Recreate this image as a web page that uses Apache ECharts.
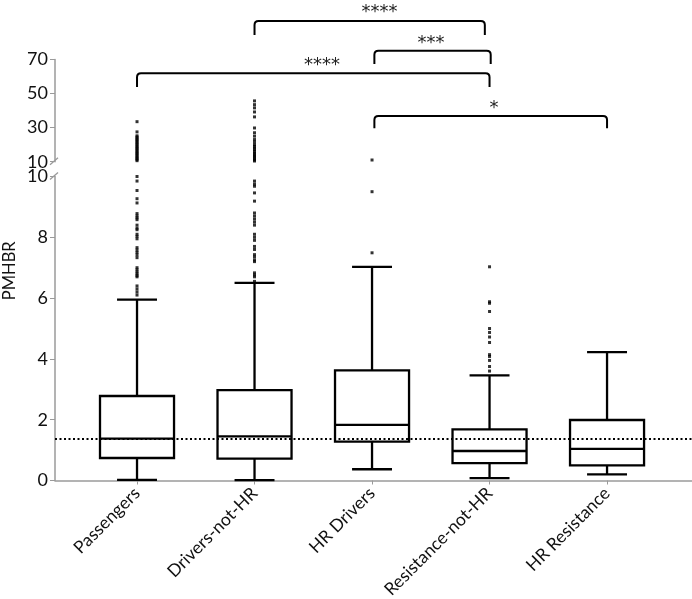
<!DOCTYPE html>
<html>
<head>
<meta charset="utf-8">
<script src="https://cdn.jsdelivr.net/npm/echarts@6/dist/echarts.min.js"></script>
<style>
html,body{margin:0;padding:0;background:#fff;}
#chart{width:692px;height:599px;}
</style>
</head>
<body>
<div id="chart"></div>
<script>
// ---- data ----
const categories = ['Passengers', 'Drivers-not-HR', 'HR Drivers', 'Resistance-not-HR', 'HR Resistance'];
const lowWhisker  = [0.02, 0.01, 0.37, 0.08, 0.20];
const q1Values    = [0.74, 0.72, 1.28, 0.57, 0.50];
const medianVals  = [1.38, 1.45, 1.83, 0.97, 1.04];
const q3Values    = [2.78, 2.97, 3.62, 1.68, 1.99];
const highWhisker = [5.95, 6.50, 7.03, 3.46, 4.22];
const referenceLine = 1.38;

const passengersOut = [33.5, 27.5, 25.2, 24.5, 23.8, 23.0, 22.3, 21.5, 20.8, 20.0, 19.2, 18.5, 17.8, 17.0, 16.3, 15.5, 14.8, 14.0, 13.3, 12.6, 11.9, 11.2, 10.6,
  10.0, 9.85, 9.54, 9.27, 9.13, 8.78, 8.7, 8.64, 8.58, 8.4, 8.3, 8.25, 8.1, 8.03, 7.95, 7.66, 7.58, 7.5, 7.42, 7.33, 7.0, 6.93, 6.86, 6.8, 6.74, 6.7, 6.4, 6.3, 6.2, 6.1];
const driversOut = [45.7, 43.5, 41.6, 39.2, 36.3, 29.8, 27.0, 25.0, 23.0, 21.5, 20.0, 19.0, 18.0, 17.0, 16.0, 15.0, 14.2, 13.4, 12.6, 11.8, 11.0, 10.4,
  9.85, 9.75, 9.68, 9.46, 9.19, 8.8, 8.7, 8.6, 8.5, 8.4, 8.1, 8.0, 7.9, 7.7, 7.6, 7.43, 7.35, 7.25, 7.2, 6.83, 6.76, 6.7, 6.55];
const hrDriversOut = [11.0, 9.5, 7.49];
const resistanceOut = [7.03, 5.88, 5.83, 5.56, 5.0, 4.87, 4.72, 4.54, 4.14, 4.08, 3.95, 3.75, 3.6];
const hrResistanceOut = [];
const outliers = [passengersOut, driversOut, hrDriversOut, resistanceOut, hrResistanceOut];

const lowerTicks = [0, 2, 4, 6, 8, 10];
const upperTicks = [10, 30, 50, 70];

// significance brackets (x in category positions, y in upper-axis units)
const bracketFrom  = [2.0, 3.02, 1.0, 3.02];
const bracketTo    = [3.96, 4.01, 4.0, 5.0];
const bracketLevel = [92.6, 75.2, 61.9, 36.9];
const bracketFoot  = [84.4, 67.4, 53.8, 29.7];
const bracketText  = ['****', '***', '****', '*'];
const textX        = [3.064, 3.502, 2.574, 4.038];
const textY        = [100.6, 82.6, 69.7, 44.0];

// ---- build ----
const X_MIN = 0.302, X_MAX = 5.723;
const BOX_HALF = 0.315, CAP_HALF = 0.17;
const FONT = 'Lato, "Open Sans", sans-serif';
const AXIS_COLOR = '#9a9a9a';

const boxData = categories.map((c, i) => [i + 1, lowWhisker[i], q1Values[i], medianVals[i], q3Values[i], highWhisker[i]]);
const lowOut = [], highOut = [];
outliers.forEach((arr, i) => arr.forEach(v => (v > 10 ? highOut : lowOut).push([i + 1, v])));
const bracketData = bracketFrom.map((f, i) => [f, bracketTo[i], bracketLevel[i], bracketFoot[i], textX[i], textY[i]]);

const chart = echarts.init(document.getElementById('chart'), null, {renderer: 'canvas'});

const option = {
  backgroundColor: '#fff',
  animation: false,
  grid: [
    {left: 55, right: 0, top: 176.5, height: 304, containLabel: false, outerBoundsMode: 'none'},
    {left: 55, right: 0, top: 59.5, height: 102.2, containLabel: false, outerBoundsMode: 'none'}
  ],
  xAxis: [
    {
      type: 'value', gridIndex: 0, min: X_MIN, max: X_MAX,
      splitLine: {show: false},
      axisLine: {show: true, lineStyle: {color: AXIS_COLOR, width: 1.5}},
      axisTick: {show: true, length: 4, inside: false, customValues: [1, 2, 3, 4, 5], lineStyle: {color: AXIS_COLOR}},
      axisLabel: {
        show: true, rotate: 45, margin: 10, customValues: [1, 2, 3, 4, 5],
        formatter: v => categories[Math.round(v) - 1] || '',
        fontFamily: FONT, fontSize: 17.5, color: '#111'
      }
    },
    {type: 'value', gridIndex: 1, min: X_MIN, max: X_MAX, show: false, splitLine: {show: false}}
  ],
  yAxis: [
    {
      type: 'value', gridIndex: 0, min: 0, max: 10, interval: 2,
      splitLine: {show: false},
      axisLine: {show: true, lineStyle: {color: AXIS_COLOR, width: 1.5}},
      axisTick: {show: true, length: 5, lineStyle: {color: AXIS_COLOR}},
      axisLabel: {show: true, margin: 7, fontFamily: FONT, fontSize: 18, color: '#111', customValues: lowerTicks}
    },
    {
      type: 'value', gridIndex: 1, min: 10, max: 70,
      splitLine: {show: false},
      axisLine: {show: true, lineStyle: {color: AXIS_COLOR, width: 1.5}},
      axisTick: {show: true, length: 5, customValues: upperTicks, lineStyle: {color: AXIS_COLOR}},
      axisLabel: {show: true, margin: 7, fontFamily: FONT, fontSize: 18, color: '#111', customValues: upperTicks}
    }
  ],
  series: [
    {
      type: 'custom', name: 'boxes', xAxisIndex: 0, yAxisIndex: 0,
      data: boxData,
      encode: {x: 0, y: [1, 2, 3, 4, 5]},
      renderItem: function (params, api) {
        const x = api.value(0);
        const lo = api.value(1), a = api.value(2), m = api.value(3), b = api.value(4), hi = api.value(5);
        const p = (xx, yy) => api.coord([xx, yy]);
        const tl = p(x - BOX_HALF, b), br = p(x + BOX_HALF, a);
        const ml = p(x - BOX_HALF, m), mr = p(x + BOX_HALF, m);
        const cLo = p(x, lo), cA = p(x, a), cB = p(x, b), cHi = p(x, hi);
        const capLoL = p(x - CAP_HALF, lo), capLoR = p(x + CAP_HALF, lo);
        const capHiL = p(x - CAP_HALF, hi), capHiR = p(x + CAP_HALF, hi);
        const st = {stroke: '#000', lineWidth: 2.3, fill: null};
        const line = (s, e) => ({type: 'line', shape: {x1: s[0], y1: s[1], x2: e[0], y2: e[1]}, style: st});
        return {
          type: 'group',
          children: [
            {type: 'rect', shape: {x: tl[0], y: tl[1], width: br[0] - tl[0], height: br[1] - tl[1]}, style: {stroke: '#000', lineWidth: 2.3, fill: 'rgba(0,0,0,0)'}},
            line(ml, mr),
            line(cLo, cA),
            line(cB, cHi),
            line(capLoL, capLoR),
            line(capHiL, capHiR)
          ]
        };
      },
      markLine: {
        silent: true, symbol: 'none', label: {show: false},
        lineStyle: {type: [2, 2.5], color: '#000', width: 2},
        data: [{yAxis: referenceLine}]
      },
      z: 3
    },
    {
      type: 'scatter', xAxisIndex: 0, yAxisIndex: 0, data: lowOut,
      symbol: 'rect', symbolSize: 3, itemStyle: {color: '#000'}, z: 4
    },
    {
      type: 'scatter', xAxisIndex: 1, yAxisIndex: 1, data: highOut,
      symbol: 'rect', symbolSize: 3, itemStyle: {color: '#000'}, z: 4
    },
    {
      type: 'custom', name: 'brackets', xAxisIndex: 1, yAxisIndex: 1, clip: false,
      data: bracketData,
      encode: {x: [0, 1], y: [2, 3]},
      renderItem: function (params, api) {
        const x1 = api.value(0), x2 = api.value(1), yl = api.value(2), yf = api.value(3);
        const pA = api.coord([x1, yf]), pB = api.coord([x1, yl]), pC = api.coord([x2, yl]), pD = api.coord([x2, yf]);
        const r = 4;
        const d = 'M' + pA[0] + ' ' + pA[1] +
          ' L' + pB[0] + ' ' + (pB[1] + r) +
          ' Q' + pB[0] + ' ' + pB[1] + ' ' + (pB[0] + r) + ' ' + pB[1] +
          ' L' + (pC[0] - r) + ' ' + pC[1] +
          ' Q' + pC[0] + ' ' + pC[1] + ' ' + pC[0] + ' ' + (pC[1] + r) +
          ' L' + pD[0] + ' ' + pD[1];
        const t = api.coord([api.value(4), api.value(5)]);
        return {
          type: 'group',
          children: [
            {type: 'path', shape: {pathData: d}, style: {stroke: '#000', lineWidth: 2, fill: null}},
            {type: 'text', x: t[0], y: t[1] + 5, style: {text: bracketText[params.dataIndex], fontFamily: '"DejaVu Sans", sans-serif', fontSize: 18, fill: '#222', align: 'center', verticalAlign: 'middle'}}
          ]
        };
      },
      z: 5
    }
  ]
};
chart.setOption(option);

// axis break marks and axis title
const brkTop = chart.convertToPixel({gridIndex: 1}, [X_MIN, 10]);
const brkLow = chart.convertToPixel({gridIndex: 0}, [X_MIN, 10]);
const midLow = chart.convertToPixel({gridIndex: 0}, [X_MIN, 6.9]);
chart.setOption({
  graphic: [
    {type: 'line', shape: {x1: brkTop[0] - 5, y1: brkTop[1] + 3, x2: brkTop[0] + 3, y2: brkTop[1] - 4}, style: {stroke: AXIS_COLOR, lineWidth: 1.3}},
    {type: 'line', shape: {x1: brkLow[0] - 5, y1: brkLow[1] + 3, x2: brkLow[0] + 3, y2: brkLow[1] - 4}, style: {stroke: AXIS_COLOR, lineWidth: 1.3}},
    {type: 'text', x: 10, y: midLow[1], rotation: Math.PI / 2, style: {text: 'PMHBR', fontFamily: FONT, fontSize: 16.5, fill: '#111', align: 'center', verticalAlign: 'middle'}}
  ]
});
</script>
</body>
</html>
